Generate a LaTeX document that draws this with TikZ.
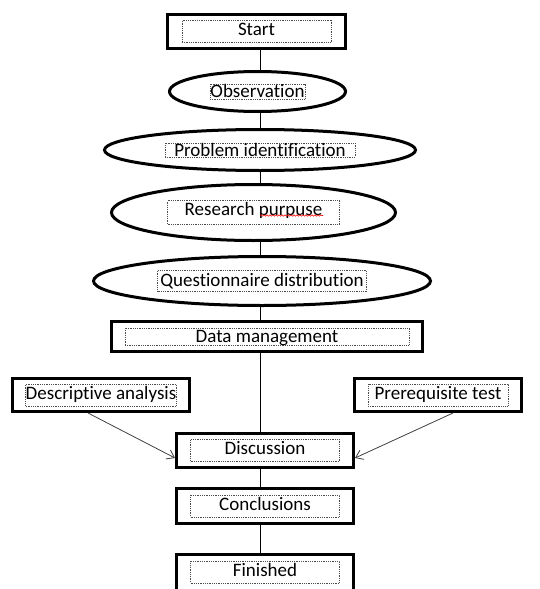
\documentclass[tikz,border=0pt]{standalone}
\usepackage{fontspec}
\setmainfont{Carlito}[Ligatures=NoCommon]
\usepackage{tikz}
\usetikzlibrary{shapes.geometric, arrows.meta, positioning, decorations.pathmorphing}

\begin{document}
\begin{tikzpicture}[x=1pt, y=-1pt, font=\fontsize{19}{22}\selectfont]

        \useasboundingbox (0,0) rectangle (539,589);

        % Define styles
        \tikzstyle{tbox} = [rectangle, draw, line width=3pt, minimum width=177pt, minimum height=34pt, inner sep=0pt]
        \tikzstyle{oval} = [ellipse, draw, line width=3pt, inner sep=0pt]
        \tikzstyle{dotbox} = [rectangle, draw=black!70, densely dotted, line width=0.8pt, inner sep=0pt, text height=13pt, text depth=5pt, minimum width=149pt, minimum height=22pt]
        \tikzstyle{line} = [draw, line width=1pt]
        \tikzstyle{feed} = [draw, line width=0.8pt, black!75, -{Straight Barb[length=7pt, width=10pt]}]

        % Place nodes
        \node [tbox, minimum width=178pt, label={[dotbox]center:Start}] (start) at (256.5,31.5) {};
        \node [oval, minimum width=176pt, minimum height=40pt, below=20pt of start, xshift=1pt,
               label={[dotbox, minimum width=95pt, minimum height=15pt, text height=13.5pt, text depth=1.5pt]center:Observation}] (obs) {};
        \node [oval, minimum width=311pt, minimum height=41pt, below=15pt of obs, xshift=2.5pt,
               label={[dotbox, minimum width=190pt, minimum height=14pt, text height=13.5pt, text depth=0.5pt]center:Problem identification}] (prob) {};
        \node [oval, minimum width=284pt, minimum height=56pt, below=11pt of prob, xshift=-6.5pt,
               label={[dotbox, minimum width=172pt, minimum height=24pt, text height=15pt, text depth=9pt]center:Research purpuse}] (purpose) {};
        \node [oval, minimum width=337pt, minimum height=49pt, below=13pt of purpose, xshift=8.5pt,
               label={[dotbox, minimum width=209pt, minimum height=21pt, text height=15.5pt, text depth=5.5pt]center:Questionnaire distribution}] (quest) {};
        \node [tbox, minimum width=311pt, minimum height=30pt, below=13pt of quest, xshift=5pt,
               label={[dotbox, minimum width=284pt, minimum height=17pt, text height=14pt, text depth=3pt]center:Data management}] (datamgmt) {};

        % Side inputs
        \node [tbox, minimum height=33pt, below=24pt of datamgmt, xshift=-166pt, label={[dotbox]center:Descriptive analysis}] (descr) {};
        \node [tbox, minimum width=167pt, minimum height=33pt, below=24pt of datamgmt, xshift=171pt,
               label={[dotbox, minimum width=140pt]center:Prerequisite test}] (prereq) {};

        \node [tbox, below=79pt of datamgmt, xshift=-2pt, label={[dotbox]center:Discussion}] (discuss) {};
        \node [tbox, minimum height=35pt, below=18pt of discuss, label={[dotbox]center:Conclusions}] (concl) {};
        \node [tbox, minimum height=39pt, below=28pt of concl, label={[dotbox, yshift=2pt]center:Finished}] (finish) {};

        \coordinate (spine) at (260,0);

        % Draw edges
        \path [line] (start.south -| spine) -- (obs.north -| spine);
        \path [line] (obs.south -| spine) -- (prob.north -| spine);
        \path [line] (prob.south -| spine) -- (purpose.north -| spine);
        \path [line] (purpose.south -| spine) -- (quest.north -| spine);
        \path [line] (quest.south -| spine) -- (datamgmt.north -| spine);
        \path [line] (datamgmt.south -| spine) -- (discuss.north -| spine);
        \path [line] (discuss.south -| spine) -- (concl.north -| spine);
        \path [line] (concl.south -| spine) -- (finish.north -| spine);

        % Input arrows
        \path [feed] ([xshift=-13pt]descr.south) -- ([yshift=-7.5pt]discuss.west);
        \path [feed] ([xshift=15pt]prereq.south) -- ([yshift=-7.5pt]discuss.east);

        % spell check mark
        \draw [red, line width=0.6pt, decorate, decoration={snake, amplitude=0.7pt, segment length=3pt}]
            ([xshift=6.5pt, yshift=-3pt]purpose.center) -- ([xshift=69.5pt, yshift=-3pt]purpose.center);

\end{tikzpicture}
\end{document}
